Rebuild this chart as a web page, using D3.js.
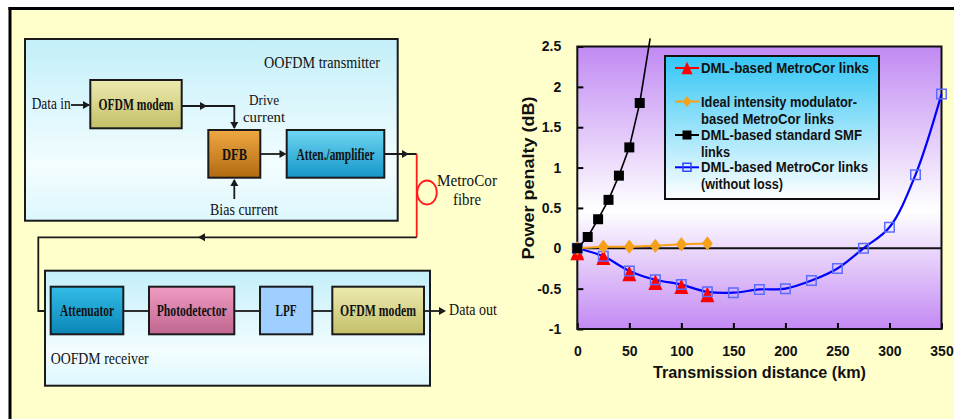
<!DOCTYPE html>
<html><head><meta charset="utf-8">
<script src="https://cdn.jsdelivr.net/npm/d3@7"></script>
<style>html,body{margin:0;padding:0;background:#fff;}svg{display:block;}</style>
</head><body>
<svg id="c" width="954" height="419"></svg>
<script>
// ---------------- DATA ----------------
const distancesShort = [0, 25, 50, 75, 100, 125];
const dmlMetroCor = [-0.05, -0.11, -0.31, -0.42, -0.47, -0.57];
const idealModulator = [0, 0.02, 0.02, 0.03, 0.05, 0.06];
const distancesSMF = [0, 10, 20, 30, 40, 50, 60];
const dmlStandardSMF = [0, 0.14, 0.36, 0.6, 0.9, 1.25, 1.8];
const smfCurveEnd = [70, 2.6]; // continuation of the SMF line beyond the frame (no marker)
const distancesLong = [0, 25, 50, 75, 100, 125, 150, 175, 200, 225, 250, 275, 300, 325, 350];
const dmlMetroCorNoLoss = [0, -0.1, -0.28, -0.39, -0.45, -0.54, -0.55, -0.51, -0.5, -0.4, -0.25, 0, 0.26, 0.91, 1.91];
const xTicks = [0, 50, 100, 150, 200, 250, 300, 350];
const yTicks = [-1, -0.5, 0, 0.5, 1, 1.5, 2, 2.5];
const yTickLabels = ["-1", "-0.5", "0", "0.5", "1", "1.5", "2", "2.5"];
const legendLabels = [
  ["DML-based MetroCor links"],
  ["Ideal intensity modulator-", "based MetroCor links"],
  ["DML-based standard SMF", "links"],
  ["DML-based MetroCor links", "(without loss)"]
];
const xTitle = "Transmission distance (km)";
const yTitle = "Power penalty (dB)";
// diagram labels
const txBlocks = ["OFDM modem", "DFB", "Atten./amplifier"];
const rxBlocks = ["Attenuator", "Photodetector", "LPF", "OFDM modem"];

// ---------------- SETUP ----------------
const svg = d3.select("#c");
const defs = svg.append("defs");
function grad(id, stops) {
  const g = defs.append("linearGradient").attr("id", id).attr("x1", 0).attr("y1", 0).attr("x2", 0).attr("y2", 1);
  stops.forEach(s => g.append("stop").attr("offset", s[0]).attr("stop-color", s[1]));
}
grad("gCyanBox", [[0, "#c3eff9"], [0.7, "#f3fdff"], [1, "#dcf7fd"]]);
grad("gYellow", [[0, "#ecebb0"], [1, "#c4bf68"]]);
grad("gOrange", [[0, "#f0a843"], [1, "#b06a10"]]);
grad("gAtten", [[0, "#6fd6f3"], [1, "#1596c8"]]);
grad("gAttenR", [[0, "#33bde8"], [1, "#0a86b6"]]);
grad("gPink", [[0, "#f09cc2"], [1, "#c0668f"]]);
grad("gPlot", [[0, "#c18af3"], [0.58, "#ffffff"], [1, "#c389f3"]]);
grad("gLegend", [[0, "#33c6f5"], [1, "#ffffff"]]);

const serif = "'Liberation Serif','Times New Roman',serif";
const sans = "'Liberation Sans',Arial,sans-serif";

function txt(g, x, y, s, o) {
  const t = g.append("text").attr("x", x).attr("y", y).text(s)
    .attr("font-family", o.font || serif).attr("font-size", o.size || 14)
    .attr("font-weight", o.bold ? "bold" : "normal").attr("fill", o.fill || "#111")
    .attr("text-anchor", o.anchor || "start").attr("dominant-baseline", "central");
  if (o.w) t.attr("textLength", o.w).attr("lengthAdjust", "spacingAndGlyphs");
  return t;
}

// page background + frame
svg.append("rect").attr("x", 10).attr("y", 8).attr("width", 944).attr("height", 411).attr("fill", "#ffffcc");
svg.append("line").attr("x1", 8.5).attr("x2", 954).attr("y1", 8.5).attr("y2", 8.5).attr("stroke", "#000").attr("stroke-width", 3);
svg.append("line").attr("x1", 10).attr("x2", 10).attr("y1", 7).attr("y2", 419).attr("stroke", "#000").attr("stroke-width", 3);

// ---------------- DIAGRAM ----------------
const dg = svg.append("g");
const ink = "#1a1a1a";
function box(x, y, w, h, fill) {
  dg.append("rect").attr("x", x).attr("y", y).attr("width", w).attr("height", h)
    .attr("fill", fill).attr("stroke", ink).attr("stroke-width", 2);
}
function wire(pts, color) {
  dg.append("path").attr("d", d3.line()(pts)).attr("fill", "none")
    .attr("stroke", color || ink).attr("stroke-width", 1.8);
}
function arrowHead(x, y, dir) { // tip at x,y
  const s = 7, h = 4;
  let p;
  if (dir === "r") p = [[x, y], [x - s, y - h], [x - s, y + h]];
  if (dir === "l") p = [[x, y], [x + s, y - h], [x + s, y + h]];
  if (dir === "d") p = [[x, y], [x - h, y - s], [x + h, y - s]];
  if (dir === "u") p = [[x, y], [x - h, y + s], [x + h, y + s]];
  dg.append("path").attr("d", d3.line()(p) + "Z").attr("fill", ink);
}

// transmitter
box(25, 39, 372.7, 181.7, "url(#gCyanBox)");
txt(dg, 264, 62, "OOFDM transmitter", {size: 17, w: 116});
box(90.3, 80, 91.4, 48.3, "url(#gYellow)");
txt(dg, 136, 104.5, txBlocks[0], {size: 17, bold: true, anchor: "middle", w: 75});
box(208.3, 130, 52, 47.7, "url(#gOrange)");
txt(dg, 234.5, 154, txBlocks[1], {size: 17, bold: true, anchor: "middle", w: 25});
box(286.7, 130, 97.6, 47.7, "url(#gAtten)");
txt(dg, 335.5, 154, txBlocks[2], {size: 17, bold: true, anchor: "middle", w: 78});

txt(dg, 31.7, 103, "Data in", {size: 17, w: 39});
wire([[71, 105], [89, 105]]); arrowHead(90, 105, "r");
wire([[181.7, 106], [234.3, 106], [234.3, 128]]); arrowHead(207, 106, "r"); arrowHead(234.3, 129, "d");
txt(dg, 264, 99, "Drive", {size: 15.5, anchor: "middle", w: 30});
txt(dg, 264, 116.5, "current", {size: 15.5, anchor: "middle", w: 42});
wire([[234.3, 199], [234.3, 180]]); arrowHead(234.3, 179, "u");
txt(dg, 244, 209, "Bias current", {size: 17, anchor: "middle", w: 68});
wire([[260.3, 154], [285, 154]]); arrowHead(286.5, 154, "r");
wire([[384.3, 154], [416.7, 154]]); arrowHead(409, 154, "r");
wire([[416.7, 154], [416.7, 237.3]], "#ff1a1a");
dg.append("ellipse").attr("cx", 427).attr("cy", 192.5).attr("rx", 9.8).attr("ry", 12)
  .attr("fill", "none").attr("stroke", "#ff1a1a").attr("stroke-width", 1.8);
txt(dg, 437, 180, "MetroCor", {size: 17, w: 60});
txt(dg, 467, 199, "fibre", {size: 17, anchor: "middle", w: 28});
wire([[416.7, 237.3], [38.3, 237.3], [38.3, 311], [50.7, 311]]);
arrowHead(198, 237.3, "l");

// receiver
box(45, 270.7, 385, 115, "url(#gCyanBox)");
txt(dg, 50.7, 358.5, "OOFDM receiver", {size: 17, w: 98});
box(50.7, 286.7, 72.6, 47.6, "url(#gAttenR)");
txt(dg, 87, 310, rxBlocks[0], {size: 17, bold: true, anchor: "middle", w: 54});
wire([[123.3, 311], [149, 311]]);
box(149, 286.7, 85.3, 47.6, "url(#gPink)");
txt(dg, 191.7, 310, rxBlocks[1], {size: 17, bold: true, anchor: "middle", w: 70});
wire([[234.3, 311], [260, 311]]);
box(260, 286.7, 52.3, 47.6, "#9ecfff");
txt(dg, 286, 310, rxBlocks[2], {size: 17, bold: true, anchor: "middle", w: 21});
wire([[312.3, 311], [332.3, 311]]);
box(332.3, 286.7, 91.7, 47.6, "url(#gYellow)");
txt(dg, 378, 310, rxBlocks[3], {size: 17, bold: true, anchor: "middle", w: 76});
wire([[424, 311], [440, 311]]); arrowHead(446, 311, "r");
txt(dg, 449, 309.5, "Data out", {size: 17, w: 48});

// ---------------- CHART ----------------
const pLeft = 577.3, pRight = 941.5, pTop = 46.5, pBottom = 329;
const x = d3.scaleLinear().domain([0, 350]).range([pLeft, pRight]);
const y = d3.scaleLinear().domain([-1, 2.5]).range([pBottom, pTop]);
const cg = svg.append("g");

cg.append("rect").attr("x", pLeft).attr("y", pTop).attr("width", pRight - pLeft).attr("height", pBottom - pTop)
  .attr("fill", "url(#gPlot)");

// axes with inward ticks
const yAxis = d3.axisLeft(y).tickValues(yTicks).tickSize(-6).tickPadding(16)
  .tickFormat((d, i) => yTickLabels[i]);
const gy = cg.append("g").attr("transform", `translate(${pLeft},0)`).call(yAxis);
const xAxis = d3.axisBottom(x).tickValues(xTicks).tickSize(-6).tickPadding(17);
const gx = cg.append("g").attr("transform", `translate(0,${pBottom})`).call(xAxis);
[gy, gx].forEach(g => {
  g.select(".domain").remove();
  g.selectAll(".tick line").attr("stroke", "#000").attr("stroke-width", 2);
  g.selectAll("text").attr("font-family", sans).attr("font-size", 14).attr("font-weight", "bold").attr("fill", "#111");
});

// zero line
cg.append("line").attr("x1", pLeft).attr("x2", pRight).attr("y1", y(0)).attr("y2", y(0))
  .attr("stroke", "#111").attr("stroke-width", 2);

// frame
cg.append("rect").attr("x", pLeft).attr("y", pTop).attr("width", pRight - pLeft).attr("height", pBottom - pTop)
  .attr("fill", "none").attr("stroke", "#111").attr("stroke-width", 2);

// titles
txt(cg, 759.5, 372, xTitle, {font: sans, size: 17, bold: true, anchor: "middle", w: 213});
txt(cg, 0, 0, yTitle, {font: sans, size: 17, bold: true, anchor: "middle", w: 163})
  .attr("transform", "translate(528,178) rotate(-90)");

// series
const lineGen = d3.line().x(d => x(d[0])).y(d => y(d[1]));
const smooth = d3.line().x(d => x(d[0])).y(d => y(d[1])).curve(d3.curveCatmullRom.alpha(0.5));
const orangePts = distancesShort.map((d, i) => [d, idealModulator[i]]);
const redPts = distancesShort.map((d, i) => [d, dmlMetroCor[i]]);
const blackPts = distancesSMF.map((d, i) => [d, dmlStandardSMF[i]]);
const bluePts = distancesLong.map((d, i) => [d, dmlMetroCorNoLoss[i]]);

// marker shapes (symbol types)
const triType = {draw(ctx, s) { const w = s * 0.5, h = s * 0.56;
  ctx.moveTo(0, -h); ctx.lineTo(w, h); ctx.lineTo(-w, h); ctx.closePath(); }};
const diaType = {draw(ctx, s) { const w = s * 0.42, h = s * 0.55;
  ctx.moveTo(0, -h); ctx.lineTo(w, 0); ctx.lineTo(0, h); ctx.lineTo(-w, 0); ctx.closePath(); }};
const sqType = {draw(ctx, s) { const h = s / 2; ctx.rect(-h, -h, s, s); }};
const sym = {
  tri: d3.symbol().type(triType).size(14)(),
  sq: d3.symbol().type(sqType).size(10)(),
  osq: d3.symbol().type(sqType).size(9.5)(),
  dia: d3.symbol().type(diaType).size(13)()
};

cg.append("path").attr("d", smooth(bluePts)).attr("fill", "none").attr("stroke", "#0000ff").attr("stroke-width", 2.2);
cg.selectAll(".tri").data(redPts).enter().append("path")
  .attr("d", sym.tri).attr("transform", d => `translate(${x(d[0])},${y(d[1])})`).attr("fill", "#ff0000");
cg.selectAll(".osq").data(bluePts).enter().append("path")
  .attr("d", sym.osq).attr("transform", d => `translate(${x(d[0])},${y(d[1])})`)
  .attr("fill", "none").attr("stroke", "#5a6cff").attr("stroke-width", 1.5);
cg.append("path").attr("d", lineGen(orangePts)).attr("fill", "none").attr("stroke", "#f7a11a").attr("stroke-width", 2);
cg.selectAll(".dia").data(orangePts).enter().append("path")
  .attr("d", sym.dia).attr("transform", d => `translate(${x(d[0])},${y(d[1])})`).attr("fill", "#f7a11a");
cg.append("path").attr("d", lineGen(blackPts.concat([smfCurveEnd]))).attr("fill", "none").attr("stroke", "#000").attr("stroke-width", 1.6);
cg.selectAll(".sq").data(blackPts).enter().append("path")
  .attr("d", sym.sq).attr("transform", d => `translate(${x(d[0])},${y(d[1])})`).attr("fill", "#000");

// legend
const lg = cg.append("g");
lg.append("rect").attr("x", 665).attr("y", 56).attr("width", 214).attr("height", 143)
  .attr("fill", "url(#gLegend)").attr("stroke", "#111").attr("stroke-width", 2);
const legColors = ["#ff0000", "#f7a11a", "#000000", "#0000ff"];
const legSyms = [d3.symbol().type(triType).size(11)(), d3.symbol().type(diaType).size(10)(),
                 d3.symbol().type(sqType).size(9)(), d3.symbol().type(sqType).size(8)()];
const legY = [68, 101.5, 135, 167.3];
const lineGap = [0, 17.5, 16.5, 17];
const legWidths = [[168], [156, 133], [161, 29], [167, 82]];
legendLabels.forEach((lines, i) => {
  lg.append("line").attr("x1", 675).attr("x2", 699).attr("y1", legY[i]).attr("y2", legY[i])
    .attr("stroke", legColors[i]).attr("stroke-width", 2);
  const m = lg.append("path").attr("d", legSyms[i]).attr("transform", `translate(687,${legY[i]})`);
  if (i === 3) m.attr("fill", "none").attr("stroke", "#3344ff").attr("stroke-width", 1.5);
  else m.attr("fill", legColors[i]);
  lines.forEach((s, j) => {
    txt(lg, 701, legY[i] + j * lineGap[i], s, {font: sans, size: 14, bold: true, w: legWidths[i][j]});
  });
});
</script>
</body></html>
